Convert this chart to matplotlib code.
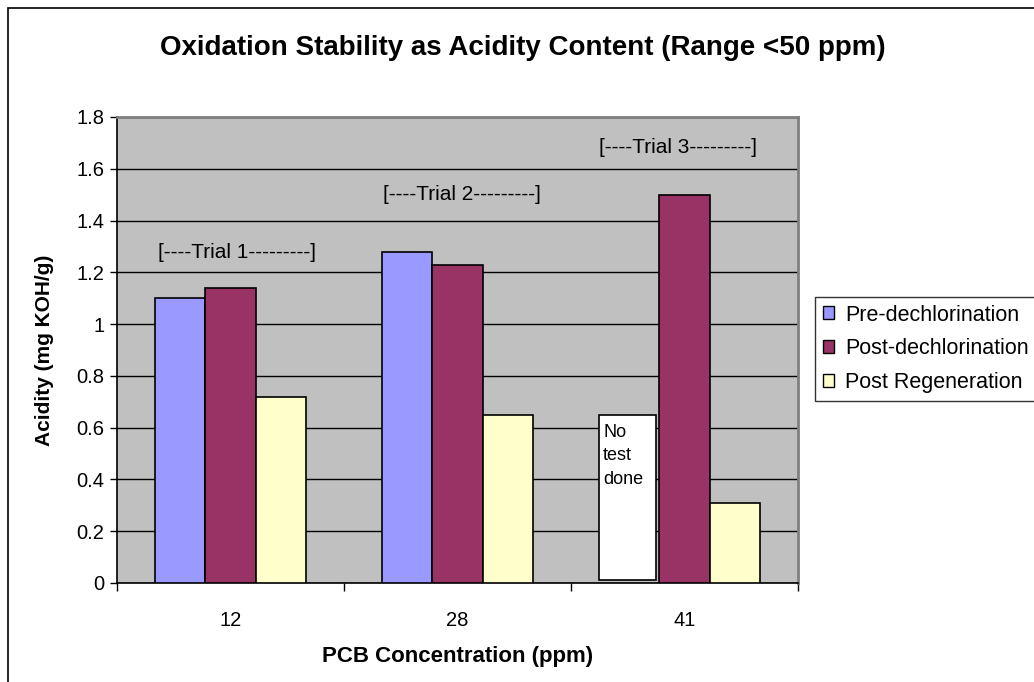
import matplotlib
matplotlib.use("Agg")
import matplotlib.pyplot as plt
from matplotlib.patches import Rectangle, Patch
import numpy as np

plt.rcParams['font.family'] = ['Liberation Sans', 'DejaVu Sans']

categories = ["12", "28", "41"]
series_names = ["Pre-dechlorination", "Post-dechlorination", "Post Regeneration"]
pre_dechlorination = [1.10, 1.28, np.nan]
post_dechlorination = [1.14, 1.23, 1.50]
post_regeneration = [0.72, 0.65, 0.31]
series_colors = ["#9999FF", "#993366", "#FFFFCC"]
trial_labels = ["[----Trial 1---------]", "[----Trial 2---------]", "[----Trial 3---------]"]
trial_label_x = [0.03, 1.02, 1.97]
trial_label_y = [1.276, 1.50, 1.684]
no_test_height = 0.65
y_ticks = [0, 0.2, 0.4, 0.6, 0.8, 1.0, 1.2, 1.4, 1.6, 1.8]
y_tick_labels = ["0", "0.2", "0.4", "0.6", "0.8", "1", "1.2", "1.4", "1.6", "1.8"]

W, H = 1034, 682
fig = plt.figure(figsize=(W / 100, H / 100), dpi=100)
fig.patch.set_facecolor("white")

# plot area in pixel coordinates
left, right, top, bottom = 117, 798, 117, 583
ax = fig.add_axes([left / W, 1 - bottom / H, (right - left) / W, (bottom - top) / H])
ax.set_facecolor("#C0C0C0")

x = np.arange(len(categories))
bw = 1 / 4.5
for i, (vals, col) in enumerate(zip([pre_dechlorination, post_dechlorination, post_regeneration],
                                    series_colors)):
    ax.bar(x + (i - 1) * bw, vals, width=bw, color=col, edgecolor="black",
           linewidth=1.2, zorder=3)

ax.set_xlim(-0.5, len(categories) - 0.5)
ax.set_ylim(0, 1.8)
ax.set_yticks(y_ticks)
ax.set_yticklabels(y_tick_labels, fontsize=14.5)
ax.yaxis.grid(True, color="black", linewidth=1.0, zorder=1)
ax.set_axisbelow(True)

ax.set_xticks(x)
ax.set_xticklabels(categories, fontsize=14.5)
ax.tick_params(axis="x", which="major", length=0, pad=20)
ax.set_xticks(np.arange(-0.5, len(categories)), minor=True)
ax.tick_params(axis="x", which="minor", length=6, width=1, color="black")
ax.tick_params(axis="y", length=5, width=1, color="black", pad=4)

for s in ["left", "bottom"]:
    ax.spines[s].set_color("black")
    ax.spines[s].set_linewidth(1.2)
for s in ["top", "right"]:
    ax.spines[s].set_color("#808080")
    ax.spines[s].set_linewidth(2)

# trial bracket annotations
for xi, lbl, yy in zip(trial_label_x, trial_labels, trial_label_y):
    ax.text(xi, yy, lbl, ha="center", va="center", fontsize=15, zorder=4)

# placeholder where no pre-dechlorination test was run
ax.add_patch(Rectangle((2 - 1.5 * bw - 0.045, 0.01), bw * 1.14, no_test_height - 0.01,
                       facecolor="white", edgecolor="black", linewidth=1.2, zorder=4))
ax.text(2 - 1.5 * bw - 0.025, no_test_height - 0.035, "No\ntest\ndone", ha="left", va="top",
        fontsize=13, linespacing=1.5, zorder=5)

ax.set_ylabel("Acidity (mg KOH/g)", fontsize=15, fontweight="bold", labelpad=16)
ax.set_xlabel("PCB Concentration (ppm)", fontsize=16, fontweight="bold", labelpad=12)

fig.text(523 / W, 1 - 48 / H, "Oxidation Stability as Acidity Content (Range <50 ppm)",
         ha="center", va="center", fontsize=20, fontweight="bold")

handles = [Patch(facecolor=c, edgecolor="black", linewidth=1) for c in series_colors]
leg = fig.legend(handles, series_names, loc="upper left",
                 bbox_to_anchor=(815 / W, 1 - 297 / H), fontsize=15.5,
                 frameon=True, fancybox=False, handlelength=0.55, handleheight=0.55,
                 handletextpad=0.5, labelspacing=0.6, borderpad=0.35, borderaxespad=0)
leg.get_frame().set_edgecolor("black")
leg.get_frame().set_linewidth(1)

# outer chart border
fig.add_artist(Rectangle((8 / W, -0.1), 1.2, 1 - 8 / H + 0.1, transform=fig.transFigure,
                         fill=False, edgecolor="black", linewidth=1.2))

fig.savefig("out.png", dpi=100)
